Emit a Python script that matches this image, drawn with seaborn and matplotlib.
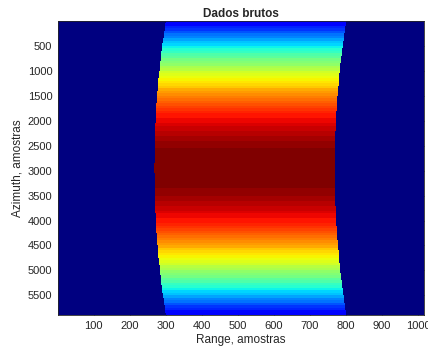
import numpy as np
import pandas as pd
import matplotlib
matplotlib.use("Agg")
import matplotlib.pyplot as plt
import seaborn as sns

# azimuth rows, 50 samples each (row centres 25 .. 5875)
az_step = 50
n_range = 1016
# amplitude (0..1) read at row centres 25, 75, ..., 2925 -- pattern is symmetric
amp_top = [0.11, 0.135, 0.16, 0.185, 0.21, 0.24, 0.265, 0.29, 0.315, 0.34,
           0.37, 0.395, 0.42, 0.44, 0.465, 0.485, 0.51, 0.53, 0.555, 0.575,
           0.60, 0.62, 0.64, 0.655, 0.67, 0.685, 0.70, 0.72, 0.735, 0.75,
           0.77, 0.785, 0.80, 0.815, 0.83, 0.845, 0.86, 0.875, 0.885, 0.895,
           0.905, 0.915, 0.925, 0.935, 0.945, 0.95, 0.955, 0.962, 0.97, 0.975,
           0.98, 0.985, 0.988, 0.991, 0.994, 0.996, 0.998, 1.0, 1.0]
# left edge of the echo (range sample) at the same rows
left_top = [299.5, 298.4, 297.3, 296.3, 295.3, 294.3, 293.3, 292.4, 291.4, 290.5,
            289.6, 288.7, 287.9, 287.0, 286.2, 285.4, 284.6, 283.8, 283.1, 282.3,
            281.6, 280.9, 280.2, 279.6, 278.9, 278.3, 277.7, 277.1, 276.5, 276.0,
            275.5, 275.0, 274.5, 274.0, 273.5, 273.1, 272.7, 272.2, 271.9, 271.5,
            271.1, 270.8, 270.5, 270.2, 269.9, 269.7, 269.4, 269.2, 269.0, 268.8,
            268.7, 268.5, 268.4, 268.3, 268.2, 268.1, 268.1, 268.0, 268.0]
band_width = 501

amp = amp_top + amp_top[::-1]
left = left_top + left_top[::-1]

xticks = [100, 200, 300, 400, 500, 600, 700, 800, 900, 1000]
yticks = [500, 1000, 1500, 2000, 2500, 3000, 3500, 4000, 4500, 5000, 5500]

rng = np.arange(1, n_range + 1)
rows = []
for a, l in zip(amp, left):
    inside = (rng >= l) & (rng <= l + band_width)
    rows.append(np.where(inside, a, 0.0))
df = pd.DataFrame(np.array(rows), columns=rng)

sns.set_style("white")
plt.rcParams['font.family'] = ['Liberation Sans', 'DejaVu Sans']

fig = plt.figure(figsize=(4.28, 3.54), dpi=100)
ax = fig.add_axes([0.1355, 0.1093, 0.855, 0.8314])
sns.heatmap(df, ax=ax, cmap=plt.get_cmap('jet', 64), vmin=0, vmax=1,
            cbar=False, xticklabels=False, yticklabels=False, rasterized=True)

ax.set_xticks([t - 0.5 for t in xticks])
ax.set_xticklabels([str(t) for t in xticks])
ax.set_yticks([t / az_step for t in yticks])
ax.set_yticklabels([str(t) for t in yticks], rotation=0)
ax.tick_params(direction='in', length=3, width=0.6, colors='#262626',
               labelsize=8, top=True, right=True, bottom=True, left=True,
               labelcolor='#262626', pad=4)
for s in ax.spines.values():
    s.set_visible(True)
    s.set_color('#262626')
    s.set_linewidth(0.6)

ax.set_title('Dados brutos', fontsize=8.5, fontweight='bold', pad=3)
ax.set_xlabel('Range, amostras', fontsize=8.5, color='#262626', labelpad=2)
ax.set_ylabel('Azimuth, amostras', fontsize=8.5, color='#262626', labelpad=3)

fig.savefig('out.png', dpi=100)
